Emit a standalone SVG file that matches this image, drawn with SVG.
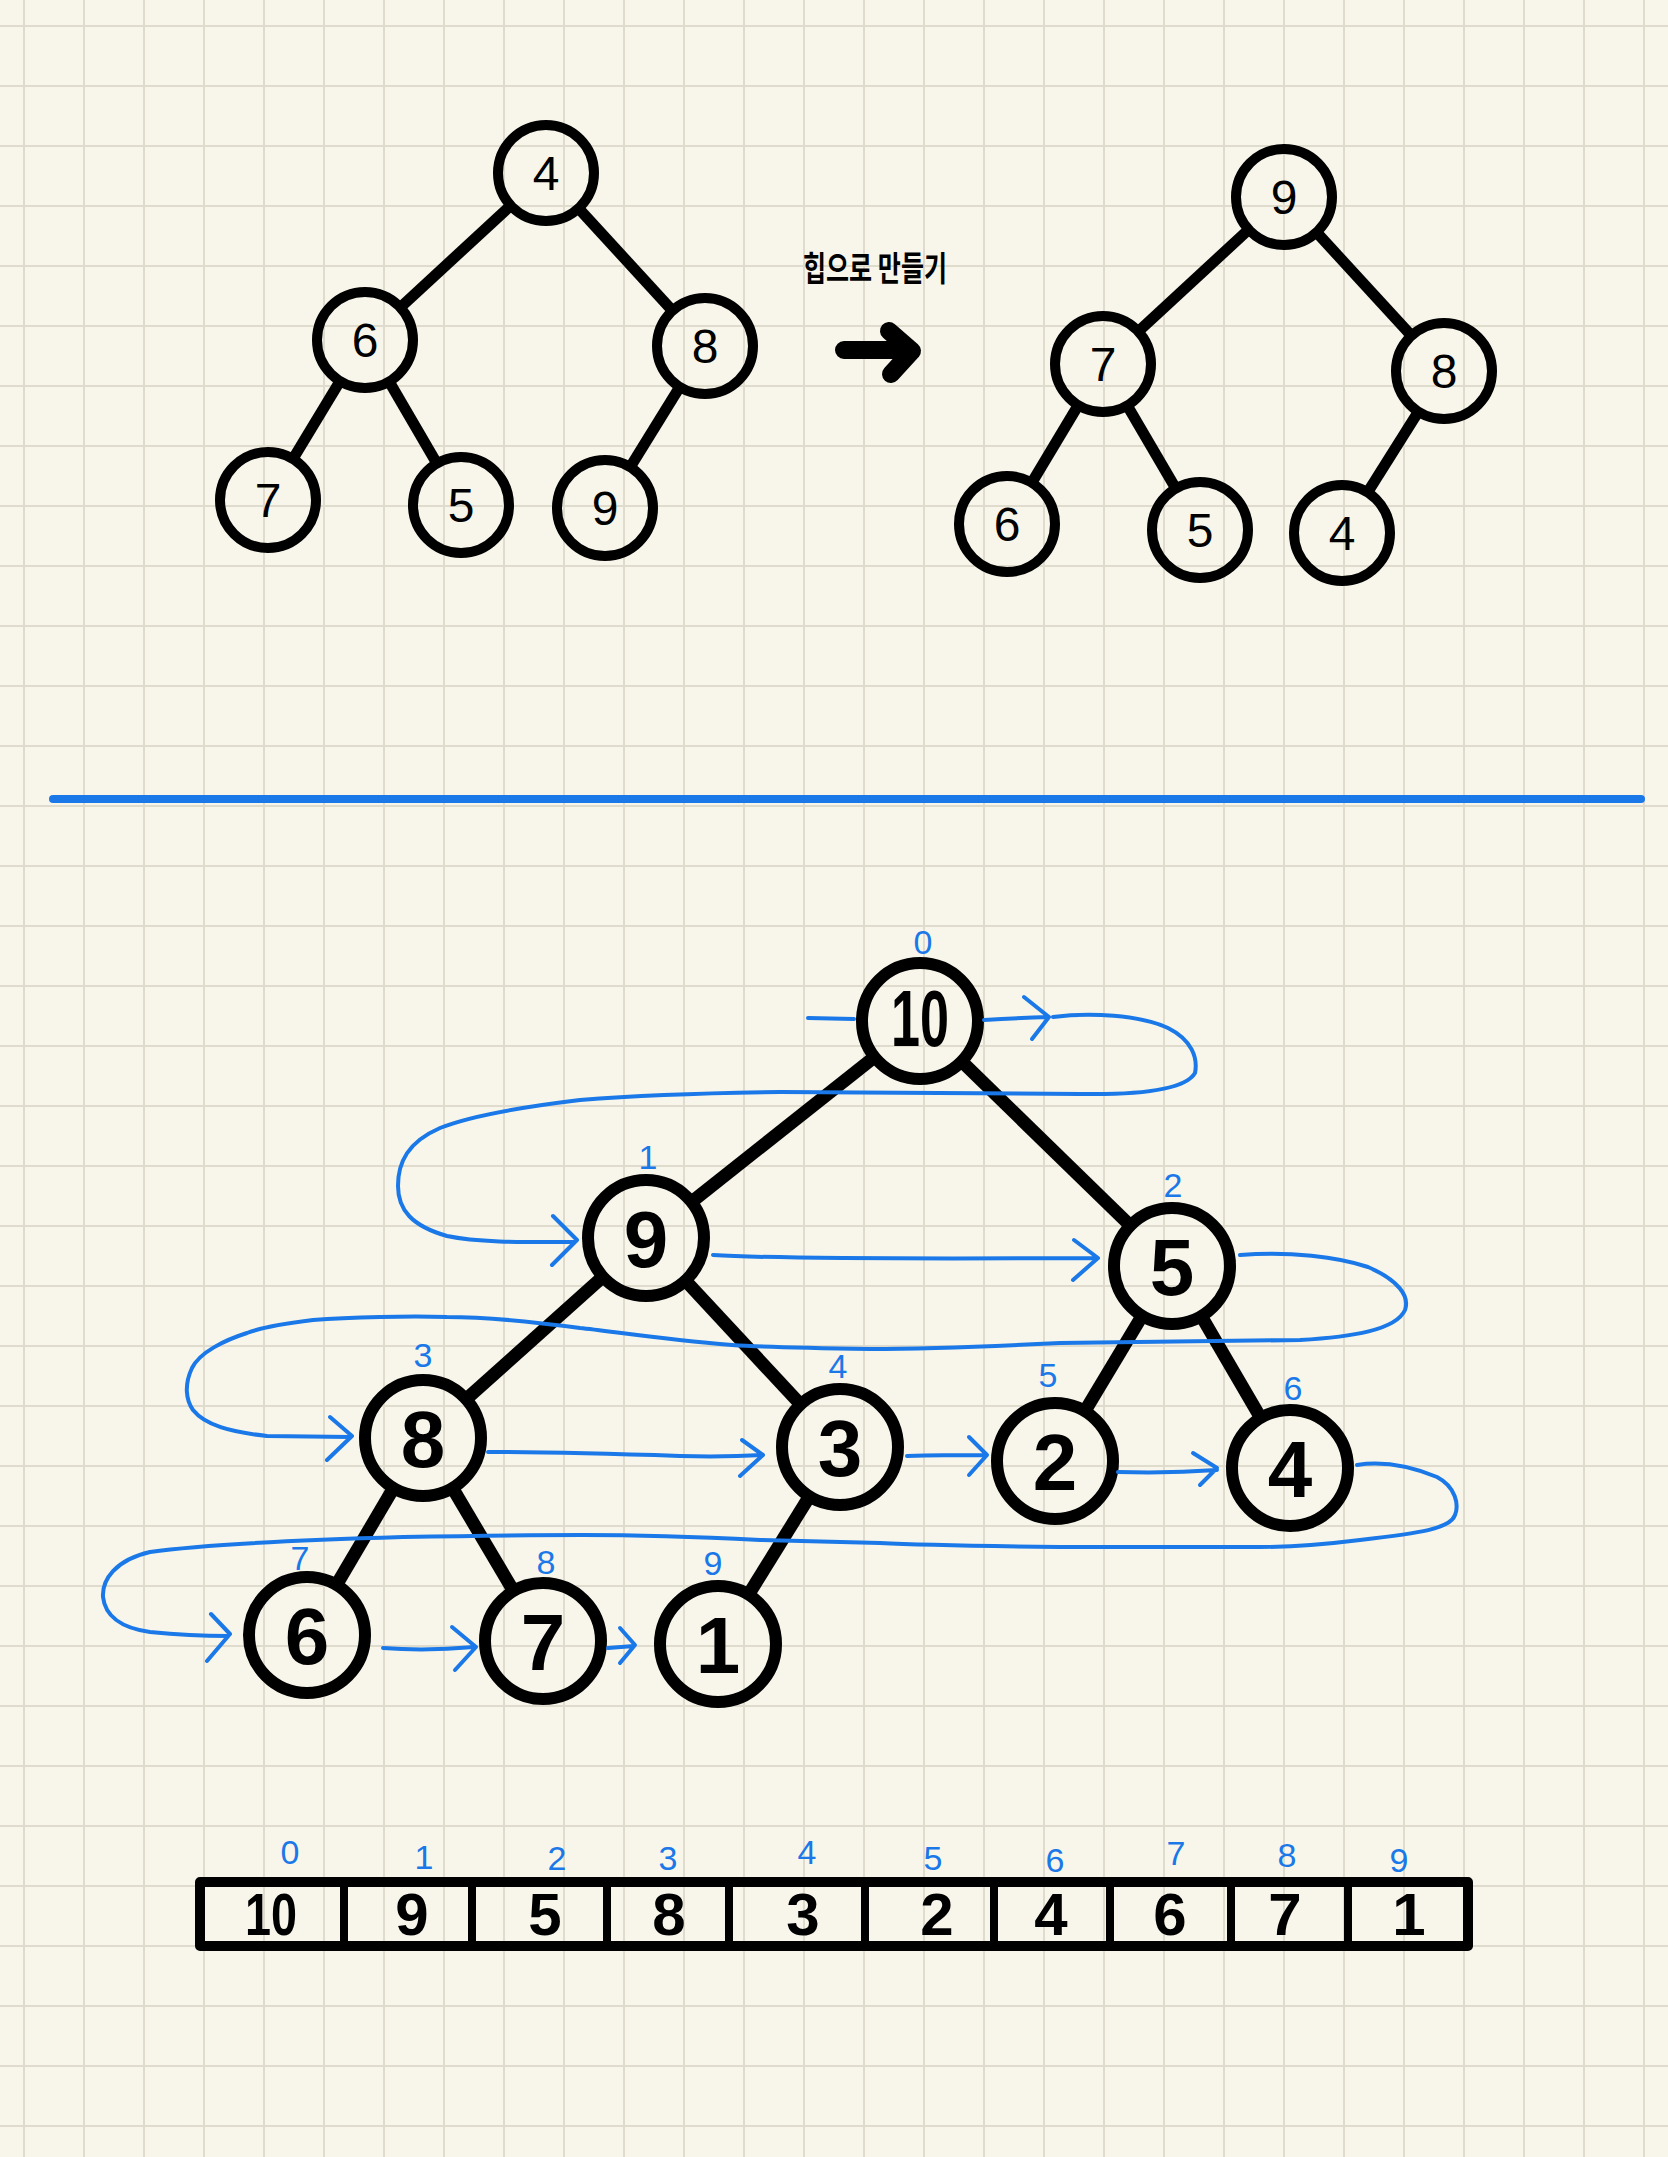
<svg xmlns="http://www.w3.org/2000/svg" width="1668" height="2157" viewBox="0 0 1668 2157">
  <defs>
    <!-- 60px graph-paper grid, lines at x=24+60k, y=26+60k -->
    <pattern id="grid" width="60" height="60" patternUnits="userSpaceOnUse" x="-6" y="-4">
      <path d="M30,0 V60 M0,30 H60" stroke="#dfdccd" stroke-width="2" fill="none"/>
    </pattern>
    <style>
      .ring { fill: none; stroke: #000; stroke-width: 10; }
      .ring-b { fill: none; stroke: #000; stroke-width: 12; }
      .edge { stroke: #000; stroke-width: 11; fill: none; }
      .edge-b { stroke: #000; stroke-width: 13; fill: none; }
      .num { font-family: "Liberation Sans", Arial, sans-serif; font-size: 48px; text-anchor: middle; fill: #000; }
      .num-b { font-family: "Liberation Sans", Arial, sans-serif; font-size: 80px; font-weight: 700; text-anchor: middle; fill: #000; }
      .cell { font-family: "Liberation Sans", Arial, sans-serif; font-size: 60px; font-weight: 700; text-anchor: middle; fill: #000; }
      .idx { font-family: "Liberation Sans", Arial, sans-serif; font-size: 34px; text-anchor: middle; fill: #1a78e8; }
      .trail { fill: none; stroke: #1a78e8; stroke-width: 4; stroke-linecap: round; stroke-linejoin: round; }
      .label { font-family: "Noto Sans CJK KR", "Noto Sans", sans-serif; font-size: 34px; font-weight: 700; text-anchor: middle; fill: #000; }
    </style>
  </defs>

  <!-- paper -->
  <rect width="1668" height="2157" fill="#f8f6ea"/>
  <rect width="1668" height="2157" fill="url(#grid)"/>

  <!-- ===== upper section: heapify example ===== -->
  <g id="edges-before">
    <line class="edge" x1="510.7" y1="205.5" x2="400.3" y2="307.5"/>
    <line class="edge" x1="578.5" y1="208.3" x2="672.5" y2="310.7"/>
    <line class="edge" x1="340.1" y1="381.0" x2="292.9" y2="459.0"/>
    <line class="edge" x1="389.1" y1="381.5" x2="436.9" y2="463.5"/>
    <line class="edge" x1="679.8" y1="386.8" x2="630.2" y2="467.2"/>
  </g>
  <g id="a-4"><circle class="ring" cx="546" cy="173" r="48"/><text class="num" x="546" y="190">4</text></g>
  <g id="a-6"><circle class="ring" cx="365" cy="340" r="48"/><text class="num" x="365" y="357">6</text></g>
  <g id="a-8"><circle class="ring" cx="705" cy="346" r="48"/><text class="num" x="705" y="363">8</text></g>
  <g id="a-7"><circle class="ring" cx="268" cy="500" r="48"/><text class="num" x="268" y="517">7</text></g>
  <g id="a-5"><circle class="ring" cx="461" cy="505" r="48"/><text class="num" x="461" y="522">5</text></g>
  <g id="a-9"><circle class="ring" cx="605" cy="508" r="48"/><text class="num" x="605" y="525">9</text></g>

  <g id="caption">
    <text class="label" x="875" y="281" textLength="144" lengthAdjust="spacingAndGlyphs">힙으로 만들기</text>
    <path d="M844,350 H906 M889,331 L912,351 L891,374" fill="none" stroke="#000" stroke-width="18" stroke-linecap="round" stroke-linejoin="round"/>
  </g>

  <g id="edges-after">
    <line class="edge" x1="1248.7" y1="229.5" x2="1138.3" y2="331.5"/>
    <line class="edge" x1="1316.5" y1="232.3" x2="1411.5" y2="335.7"/>
    <line class="edge" x1="1078.3" y1="405.2" x2="1031.7" y2="482.8"/>
    <line class="edge" x1="1127.2" y1="405.4" x2="1175.8" y2="488.6"/>
    <line class="edge" x1="1418.4" y1="411.6" x2="1367.6" y2="492.4"/>
  </g>
  <g id="b-9"><circle class="ring" cx="1284" cy="197" r="48"/><text class="num" x="1284" y="214">9</text></g>
  <g id="b-7"><circle class="ring" cx="1103" cy="364" r="48"/><text class="num" x="1103" y="381">7</text></g>
  <g id="b-8"><circle class="ring" cx="1444" cy="371" r="48"/><text class="num" x="1444" y="388">8</text></g>
  <g id="b-6"><circle class="ring" cx="1007" cy="524" r="48"/><text class="num" x="1007" y="541">6</text></g>
  <g id="b-5"><circle class="ring" cx="1200" cy="530" r="48"/><text class="num" x="1200" y="547">5</text></g>
  <g id="b-4"><circle class="ring" cx="1342" cy="533" r="48"/><text class="num" x="1342" y="550">4</text></g>

  <!-- divider -->
  <line x1="53" y1="799" x2="1641" y2="799" stroke="#1a78e8" stroke-width="8" stroke-linecap="round"/>

  <!-- ===== lower section: heap as tree ===== -->
  <g id="edges-heap">
    <line class="edge-b" x1="875.3" y1="1056.4" x2="690.7" y2="1202.6"/>
    <line class="edge-b" x1="960.9" y1="1060.7" x2="1131.1" y2="1226.3"/>
    <line class="edge-b" x1="603.6" y1="1276.1" x2="465.4" y2="1399.9"/>
    <line class="edge-b" x1="684.8" y1="1279.8" x2="801.2" y2="1405.2"/>
    <line class="edge-b" x1="1142.7" y1="1314.9" x2="1084.3" y2="1412.1"/>
    <line class="edge-b" x1="1200.8" y1="1315.2" x2="1261.2" y2="1418.8"/>
    <line class="edge-b" x1="394.1" y1="1487.1" x2="335.9" y2="1585.9"/>
    <line class="edge-b" x1="452.0" y1="1487.1" x2="514.0" y2="1591.9"/>
    <line class="edge-b" x1="810.0" y1="1495.5" x2="748.0" y2="1595.5"/>
  </g>

  <g id="h-0"><circle class="ring-b" cx="920" cy="1021" r="58"/><text class="num-b" x="920" y="1046" font-size="70" textLength="58" lengthAdjust="spacingAndGlyphs">10</text><text class="idx" x="923" y="954">0</text></g>
  <g id="h-1"><circle class="ring-b" cx="646" cy="1238" r="58"/><text class="num-b" x="646" y="1267">9</text><text class="idx" x="648" y="1169">1</text></g>
  <g id="h-2"><circle class="ring-b" cx="1172" cy="1266" r="58"/><text class="num-b" x="1172" y="1295">5</text><text class="idx" x="1173" y="1197">2</text></g>
  <g id="h-3"><circle class="ring-b" cx="423" cy="1438" r="58"/><text class="num-b" x="423" y="1467">8</text><text class="idx" x="423" y="1367">3</text></g>
  <g id="h-4"><circle class="ring-b" cx="840" cy="1447" r="58"/><text class="num-b" x="840" y="1476">3</text><text class="idx" x="838" y="1378">4</text></g>
  <g id="h-5"><circle class="ring-b" cx="1055" cy="1461" r="58"/><text class="num-b" x="1055" y="1490">2</text><text class="idx" x="1048" y="1387">5</text></g>
  <g id="h-6"><circle class="ring-b" cx="1290" cy="1468" r="58"/><text class="num-b" x="1290" y="1497">4</text><text class="idx" x="1293" y="1400">6</text></g>
  <g id="h-7"><circle class="ring-b" cx="307" cy="1635" r="58"/><text class="num-b" x="307" y="1664">6</text><text class="idx" x="300" y="1570">7</text></g>
  <g id="h-8"><circle class="ring-b" cx="543" cy="1641" r="58"/><text class="num-b" x="543" y="1670">7</text><text class="idx" x="546" y="1574">8</text></g>
  <g id="h-9"><circle class="ring-b" cx="718" cy="1644" r="58"/><text class="num-b" x="718" y="1673">1</text><text class="idx" x="713" y="1575">9</text></g>

  <!-- level-order traversal trail -->
  <g id="trail">
    <path class="trail" d="M808,1018 L854,1019"/>
    <path class="trail" d="M984,1020 Q1020,1018 1049,1017 M1024,997 L1049,1017 L1032,1039"/>
    <path class="trail" d="M1053,1017 C1090,1012 1140,1015 1168,1028 C1192,1040 1198,1058 1195,1073 C1185,1090 1140,1095 1080,1094 L780,1092 C700,1093 630,1096 580,1100 C530,1106 470,1116 440,1128 C408,1142 398,1162 398,1186 C398,1210 412,1226 447,1236 C480,1243 530,1242 575,1242 M553,1216 L577,1240 L552,1265"/>
    <path class="trail" d="M713,1255 C760,1258 900,1259 1097,1258 M1074,1240 L1098,1258 L1073,1280"/>
    <path class="trail" d="M1240,1255 C1290,1251 1338,1257 1368,1267 C1398,1280 1410,1296 1405,1310 C1396,1330 1352,1337 1300,1340 L1060,1343 C980,1347 900,1349 870,1349 C800,1348 760,1347 732,1345 C660,1339 610,1331 580,1328 C520,1320 480,1317 447,1317 C410,1316 350,1317 313,1320 C280,1324 260,1328 247,1333 C225,1340 200,1352 192,1368 C184,1385 186,1400 193,1410 C205,1425 230,1432 267,1436 L350,1437 M330,1417 L352,1436 L327,1460"/>
    <path class="trail" d="M488,1452 C540,1452 620,1454 680,1456 C720,1457 745,1456 763,1455 M742,1440 L763,1455 L740,1476"/>
    <path class="trail" d="M907,1456 C940,1455 965,1455 987,1455 M969,1437 L987,1455 L969,1475"/>
    <path class="trail" d="M1118,1472 C1150,1473 1190,1472 1217,1470 M1193,1453 L1217,1468 L1200,1485"/>
    <path class="trail" d="M1357,1465 C1382,1461 1410,1466 1437,1477 C1456,1487 1459,1505 1455,1515 C1450,1529 1420,1533 1360,1540 C1320,1545 1290,1547 1260,1547 L1060,1547 C980,1546 900,1544 880,1543 L760,1540 C700,1537 640,1535 582,1535 C520,1535 460,1536 403,1537 C300,1540 200,1545 150,1552 C115,1560 102,1580 103,1597 C105,1615 120,1628 150,1632 C180,1635 205,1636 228,1636 M211,1614 L230,1634 L207,1661"/>
    <path class="trail" d="M383,1648 C410,1650 440,1650 474,1647 M452,1627 L476,1647 L455,1670"/>
    <path class="trail" d="M608,1648 L634,1646 M620,1628 L635,1645 L620,1663"/>
  </g>

  <!-- ===== array layout ===== -->
  <g id="array">
    <rect x="200" y="1882" width="1268" height="64" fill="none" stroke="#000" stroke-width="10" stroke-linejoin="round"/>
    <path d="M344,1882 V1946 M472,1882 V1946 M607,1882 V1946 M729,1882 V1946 M865,1882 V1946 M994,1882 V1946 M1110,1882 V1946 M1231,1882 V1946 M1348,1882 V1946" stroke="#000" stroke-width="8" fill="none"/>
    <text class="cell" x="271" y="1935" textLength="52" lengthAdjust="spacingAndGlyphs">10</text>
    <text class="cell" x="412" y="1935">9</text>
    <text class="cell" x="545" y="1935">5</text>
    <text class="cell" x="669" y="1935">8</text>
    <text class="cell" x="803" y="1935">3</text>
    <text class="cell" x="937" y="1935">2</text>
    <text class="cell" x="1051" y="1935">4</text>
    <text class="cell" x="1170" y="1935">6</text>
    <text class="cell" x="1285" y="1935">7</text>
    <text class="cell" x="1409" y="1935">1</text>
  </g>
  <g id="array-index">
    <text class="idx" x="290" y="1864">0</text>
    <text class="idx" x="424" y="1869">1</text>
    <text class="idx" x="557" y="1870">2</text>
    <text class="idx" x="668" y="1870">3</text>
    <text class="idx" x="807" y="1864">4</text>
    <text class="idx" x="933" y="1870">5</text>
    <text class="idx" x="1055" y="1872">6</text>
    <text class="idx" x="1176" y="1865">7</text>
    <text class="idx" x="1287" y="1867">8</text>
    <text class="idx" x="1399" y="1872">9</text>
  </g>
</svg>
